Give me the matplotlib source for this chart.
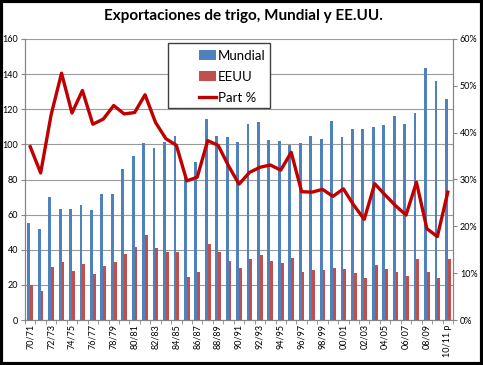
import matplotlib
matplotlib.use("Agg")
import matplotlib.pyplot as plt
import numpy as np
from matplotlib.patches import Rectangle

seasons = ["70/71","71/72","72/73","73/74","74/75","75/76","76/77","77/78","78/79","79/80",
           "80/81","81/82","82/83","83/84","84/85","85/86","86/87","87/88","88/89","89/90",
           "90/91","91/92","92/93","93/94","94/95","95/96","96/97","97/98","98/99","99/00",
           "00/01","01/02","02/03","03/04","04/05","05/06","06/07","07/08","08/09","09/10","10/11 p"]
mundial = [55, 52, 70, 63, 63, 65.5, 62.5, 72, 71.5, 86,
           93.5, 101, 98, 101.5, 105, 82, 90, 114.5, 104.5, 104,
           101.5, 111.5, 113, 102.5, 102, 99.5, 100.5, 105, 103, 113.5,
           104, 108.5, 109, 110, 111, 116, 111.5, 118, 143.5, 136, 126]
eeuu = [20, 16.5, 30, 33, 28, 32, 26, 30.5, 33, 37.5,
        41.5, 48.5, 41, 39, 38.5, 24.5, 27.5, 43.5, 38.5, 33.5,
        29.5, 35, 37, 33.5, 32.5, 35.5, 27.5, 28.5, 28.5, 29.5,
        29, 26.5, 24, 31.5, 29, 27.5, 25, 34.5, 27.5, 24, 34.5]
part = [37.0, 31.4, 43.8, 52.7, 44.2, 49.0, 41.8, 42.9, 45.8, 44.0,
        44.3, 48.1, 42.2, 38.7, 37.3, 29.7, 30.5, 38.3, 37.3, 32.9,
        29.0, 31.5, 32.6, 33.1, 32.0, 35.8, 27.4, 27.3, 27.9, 26.4,
        28.0, 24.5, 21.5, 29.1, 26.7, 24.4, 22.4, 29.4, 19.5, 17.8, 27.3]

plt.rcParams['font.family'] = ['Lato', 'DejaVu Sans']

fig = plt.figure(figsize=(4.83, 3.65), dpi=100)
fig.patch.set_facecolor('white')
ax = fig.add_axes([25/483, 1-320/365, 428/483, 281/365])
ax2 = ax.twinx()

x = np.arange(len(seasons))
bw = 0.27
ax.bar(x - bw/2, mundial, width=bw, color='#4F81BD', label='Mundial', zorder=3)
ax.bar(x + bw/2, eeuu, width=bw, color='#C0504D', label='EEUU', zorder=3)
ax2.plot(x, part, color='#C00000', lw=2.4, label='Part %', zorder=4)

ax.set_xlim(-0.5, len(seasons) - 0.5)
ax.set_ylim(0, 160)
ax.set_yticks(np.arange(0, 161, 20))
ax2.set_ylim(0, 60)
ax2.set_yticks(np.arange(0, 61, 10))
ax2.set_yticklabels([f"{v}%" for v in range(0, 61, 10)])
ax.yaxis.grid(True, color='#9a9a9a', lw=0.8, zorder=0)
ax.set_axisbelow(True)

ax.set_xticks(x[::2])
ax.set_xticklabels(seasons[::2], rotation=90, fontsize=6.5)
ax.set_xticks(np.arange(-0.5, len(seasons), 1), minor=True)
ax.tick_params(axis='x', which='major', length=0, pad=3)
ax.tick_params(axis='x', which='minor', length=3, color='#868686')
ax.tick_params(axis='y', labelsize=6.5, length=3, color='#868686', pad=2)
ax2.tick_params(axis='y', labelsize=6.5, length=3, color='#868686', pad=2)

for a in (ax, ax2):
    a.spines['top'].set_visible(False)
    for s in ('left', 'right', 'bottom'):
        a.spines[s].set_color('#868686')
        a.spines[s].set_linewidth(0.8)

# legend frame
frame = Rectangle((0.334, 0.754), 0.238, 0.232, transform=ax2.transAxes,
                  facecolor='white', edgecolor='#404040', lw=1.0, zorder=9)
ax2.add_patch(frame)

h1, l1 = ax.get_legend_handles_labels()
h2, l2 = ax2.get_legend_handles_labels()
leg = ax2.legend(h1 + h2, l1 + l2, loc='upper left', bbox_to_anchor=(0.397, 0.976),
                 fontsize=9.5, frameon=False, borderpad=0.3, labelspacing=0.68,
                 handlelength=1.3, handletextpad=0.15, borderaxespad=0)
leg.set_zorder(10)

fig.text(0.505, 0.955, "Exportaciones de trigo, Mundial y EE.UU.", ha='center', va='center',
         fontsize=11, fontweight='bold')

fig.patches.append(Rectangle((0.003, 0.004), 0.994, 0.992, transform=fig.transFigure,
                             fill=False, edgecolor='black', lw=3))

fig.savefig('out.png', dpi=100)
